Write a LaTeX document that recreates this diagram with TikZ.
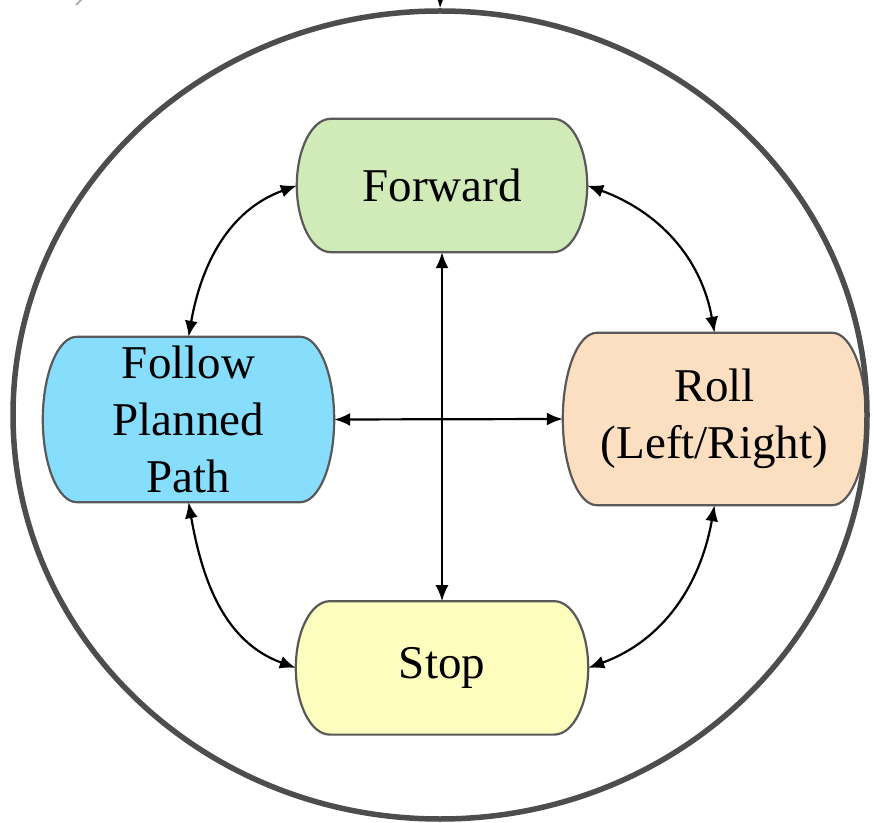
\documentclass[tikz,border=0pt]{standalone}
\usepackage{fontspec}
\setmainfont{Liberation Serif}
\usetikzlibrary{positioning,calc,backgrounds,shapes.geometric,arrows.meta}

\definecolor{fwdgreen}{HTML}{D0EBB8}
\definecolor{pathblue}{HTML}{87DEFC}
\definecolor{rollpeach}{HTML}{FCDEC0}
\definecolor{stopyellow}{HTML}{FDFDBE}
\definecolor{boxline}{HTML}{595959}
\definecolor{ringgray}{HTML}{4D4D4D}

\tikzset{
  >={Latex[length=16pt,width=13pt]},
  state/.style={inner sep=0pt, align=center,
    font=\fontsize{47}{57}\selectfont},
  link/.style={<->, line width=2.2pt},
}

% capsule outline with elliptic ends round a named node
\newcommand\capr{34pt}
\newcommand\capsule[2]{%
  \path[draw=boxline, line width=2.2pt, fill=#2]
    let \p1=(#1.north west), \p2=(#1.south east), \n1={(\y1-\y2)/2} in
    (\x1+\capr,\y1) -- (\x2-\capr,\y1)
    arc[start angle=90, end angle=-90, x radius=\capr, y radius=\n1]
    -- (\x1+\capr,\y2)
    arc[start angle=270, end angle=90, x radius=\capr, y radius=\n1] -- cycle;}

\begin{document}
\begin{tikzpicture}[x=1pt,y=1pt]
\useasboundingbox (0,0) rectangle (874,822);

\node[draw=ringgray, line width=5.5pt, ellipse, inner sep=0pt,
    minimum width=854pt,
    minimum height=808pt
] (ring) at (440,407) {};

\node[state,
    minimum width=290pt,
    minimum height=133pt
] (fwd) at (442,636.5) {Forward};

\node[state,
    below=349pt of fwd,
    minimum width=292pt,
    minimum height=133pt
] (stop) {Stop};

\node[state,
    minimum width=291pt,
    minimum height=165pt
] (follow) at (188.5,402.5) {Follow\\Planned\\Path};

\node[state,
    minimum width=303pt,
    minimum height=172pt
] (roll) at (714.5,403) {Roll\\(Left/Right)};

\begin{scope}[on background layer]
  \capsule{fwd}{fwdgreen}
  \capsule{stop}{stopyellow}
  \capsule{follow}{pathblue}
  \capsule{roll}{rollpeach}
\end{scope}

% Arrows
\coordinate (entry) at (441,840);
\draw[->, line width=2.2pt] (entry) -- (ring.north);

\coordinate (stub a) at (76,817);
\coordinate (stub b) at (83,824);
\draw[gray!60, line width=2pt] (stub a) -- (stub b);

\draw[link] (fwd.south) -- (stop.north);
\draw[link] (follow.east) -- (roll.west);
\draw[link] (fwd.west) to[out=200, in=80] (follow.north);
\draw[link] (fwd.east) to[out=-20, in=100] (roll.north);
\draw[link] (follow.south) to[out=-80, in=160] (stop.west);
\draw[link] (roll.south) to[out=-100, in=20] (stop.east);
\end{tikzpicture}
\end{document}
